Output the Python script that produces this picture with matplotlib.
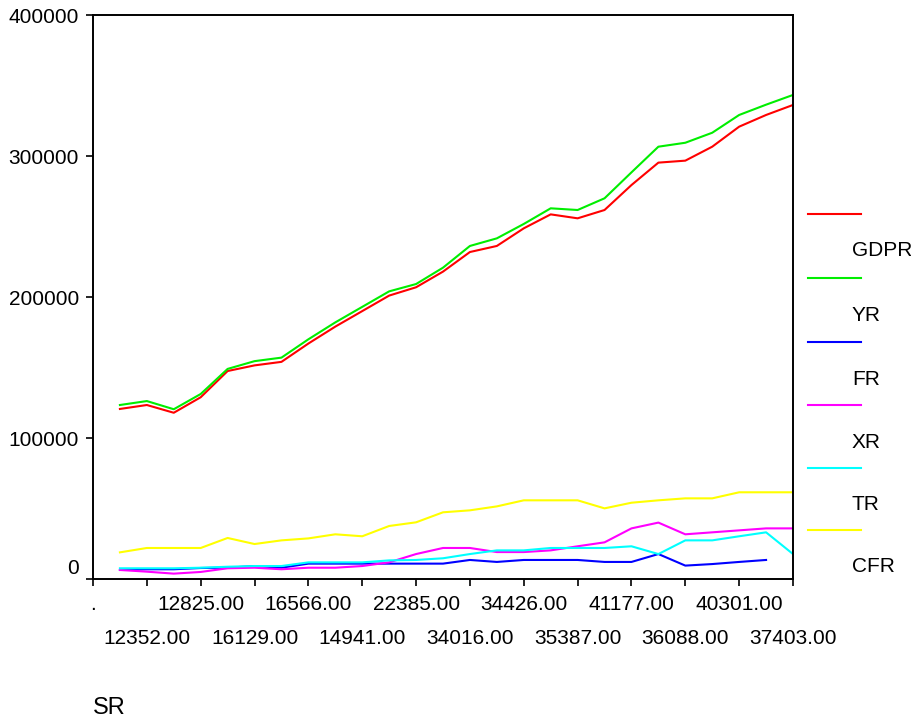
import matplotlib
matplotlib.use("Agg")
import matplotlib.pyplot as plt
import matplotlib.transforms as mtransforms
import numpy as np

# observations 0..26 (obs 0 has no SR value and no data)
sr_labels = [".", "12352.00", "12825.00", "16129.00", "16566.00", "14941.00", "22385.00",
             "34016.00", "34426.00", "35387.00", "41177.00", "36088.00", "40301.00", "37403.00"]

nan = np.nan
gdpr = [nan, 120600, 123400, 117900, 128900, 147500, 151500, 154000, 167000, 179000, 190000,
        201000, 206900, 218000, 231900, 236200, 248700, 258600, 255800, 261700, 279400,
        295300, 296700, 306600, 320800, 329100, 336200]
yr = [nan, 123400, 126200, 120400, 131200, 149000, 154500, 157000, 170000, 182000, 193000,
      204000, 209200, 220800, 236200, 241600, 251800, 262900, 261700, 270000, 288400,
      306600, 309400, 316500, 329100, 336400, 343300]
fr = [nan, 6400, 6900, 6900, 7800, 8000, 9200, 8000, 10900, 10900, 10900, 10900, 10900,
      10900, 13500, 12100, 13500, 13500, 13500, 12100, 12100, 17700, 9500, 10600, 12100,
      13500, nan]
xr = [nan, 6400, 5200, 3800, 5000, 7600, 8000, 6900, 8000, 8000, 9200, 11800, 17700,
      22000, 22000, 19100, 19100, 20300, 23200, 26000, 35900, 40000, 31700, 33100, 34500,
      35900, 35900]
tr = [nan, 7600, 7600, 7600, 8000, 8700, 9200, 9200, 11800, 11800, 11800, 13200, 13500,
      14700, 17700, 20300, 20300, 22000, 22000, 22000, 23200, 17700, 27400, 27400, 30300,
      33100, 17700]
cfr = [nan, 18900, 22000, 22000, 22000, 29100, 24800, 27400, 28800, 31700, 30300, 37600,
       40200, 47300, 48700, 51500, 55800, 55800, 55800, 50100, 54100, 55800, 57200, 57200,
       61500, 61500, 61500]

series = [("GDPR", gdpr, "#ff0000"), ("YR", yr, "#00ee00"), ("FR", fr, "#0000ff"),
          ("XR", xr, "#ff00ff"), ("TR", tr, "#00ffff"), ("CFR", cfr, "#ffff00")]

plt.rcParams["font.family"] = ["Liberation Sans", "DejaVu Sans"]
fig = plt.figure(figsize=(9.12, 7.19), dpi=100)
ax = fig.add_axes([93 / 912, 1 - 579 / 719, 700 / 912, 564 / 719])

obs = np.arange(len(gdpr))
for name, vals, col in series:
    ax.plot(obs, vals, color=col, lw=1.5)

ax.set_xlim(0, len(gdpr) - 1)
ax.set_ylim(0, 400000)

for sp in ax.spines.values():
    sp.set_linewidth(1.4)

ax.set_yticks([0, 100000, 200000, 300000, 400000])
ax.set_yticklabels(["0", "100000", "200000", "300000", "400000"])
ax.tick_params(axis="y", labelsize=15, length=5, width=1.2, pad=5)
# "0" label sits a bit above the corner
lab0 = ax.get_yticklabels()[0]
lab0.set_transform(lab0.get_transform() +
                   mtransforms.ScaledTranslation(0, 12 / 100, fig.dpi_scale_trans))

tick_pos = list(range(0, 27, 2))
ax.set_xticks(tick_pos[0::2])
ax.set_xticklabels(sr_labels[0::2])
ax.set_xticks(tick_pos[1::2], minor=True)
ax.set_xticklabels(sr_labels[1::2], minor=True)
ax.tick_params(axis="x", which="major", labelsize=15, length=5, width=1.2, pad=6.5)
ax.tick_params(axis="x", which="minor", labelsize=15, length=5, width=1.2, pad=31)

fig.text(93 / 912, 1 - 708 / 719, "SR", fontsize=17, ha="left", va="center")

# legend: line with its name a little below and to the right
line_y = [214, 278, 342, 405, 468, 530]
for (name, vals, col), ly in zip(series, line_y):
    fig.add_artist(plt.Line2D([808 / 912, 861 / 912], [1 - ly / 719, 1 - ly / 719],
                              color=col, lw=1.5))
    fig.text(852 / 912, 1 - (ly + 37) / 719, name, fontsize=15, ha="left", va="center")

fig.savefig("out.png", dpi=100)
